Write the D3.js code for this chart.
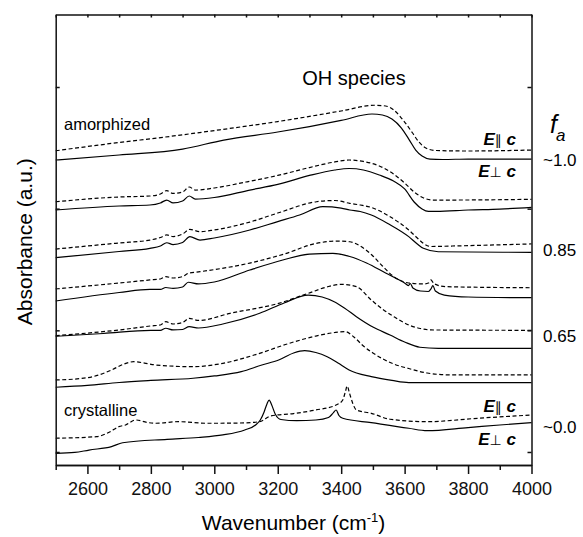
<!DOCTYPE html>
<html>
<head>
  <script src="https://d3js.org/d3.v7.min.js"></script>
  <style>
    body { margin: 0; background: #fff; }
    svg { font-family: "Liberation Sans", Arial, Helvetica, sans-serif; }
    .axis path, .axis line { stroke: #111; stroke-width: 1.5; }
    .axis text { font-size: 18px; fill: #111; font-family: "Liberation Sans", Arial, sans-serif; }
    .spec { fill: none; stroke: #000; stroke-width: 1.2; }
    .dash { stroke-dasharray: 4,2.5; }
  </style>
</head>
<body>
<div id="chart"></div>
<script>
  var width = 583, height = 537;
  var margin = {top: 14.5, left: 55.7, right: 51.5, bottom: 72};

  var svg = d3.select("#chart").append("svg")
    .attr("width", width)
    .attr("height", height);

  /*
  SPECTRA: [wavenumber, absorbance (a.u., offset for clarity)]
  pairs from top (amorphized) to bottom (crystalline); para = E||c, perp = E_|_c
  */
  var s1para = [[2500,2.476],[2700,2.544],[2840,2.587],[3000,2.642],[3200,2.716],[3400,2.803],[3505,2.850],[3540,2.844],[3566,2.811],[3600,2.712],[3625,2.622],[3645,2.548],[3670,2.494],[3700,2.478],[3800,2.474],[4000,2.482]];
  var s1perp = [[2500,2.400],[2700,2.441],[2900,2.490],[3030,2.564],[3200,2.630],[3300,2.675],[3400,2.725],[3497,2.778],[3530,2.770],[3560,2.737],[3590,2.663],[3615,2.564],[3635,2.482],[3655,2.433],[3680,2.408],[3720,2.404],[3800,2.408],[4000,2.408]];

  var s2para = [[2500,2.057],[2700,2.096],[2797,2.104],[2830,2.121],[2850,2.149],[2870,2.125],[2900,2.137],[2921,2.178],[2940,2.153],[3000,2.170],[3100,2.219],[3200,2.273],[3300,2.338],[3380,2.384],[3425,2.400],[3470,2.388],[3520,2.351],[3565,2.285],[3600,2.211],[3630,2.137],[3660,2.088],[3690,2.071],[3750,2.071],[4000,2.077]];
  var s2perp = [[2500,1.989],[2700,2.022],[2797,2.030],[2830,2.047],[2850,2.071],[2870,2.047],[2900,2.063],[2921,2.104],[2940,2.079],[3000,2.092],[3112,2.153],[3200,2.199],[3300,2.273],[3380,2.318],[3425,2.330],[3470,2.318],[3520,2.277],[3565,2.227],[3600,2.162],[3630,2.055],[3655,1.997],[3675,1.977],[3700,1.977],[3800,1.989],[3900,1.997],[4000,2.011]];

  var s3para = [[2500,1.668],[2700,1.718],[2797,1.742],[2830,1.763],[2850,1.784],[2870,1.771],[2900,1.792],[2923,1.830],[2955,1.811],[3000,1.825],[3112,1.890],[3200,1.964],[3322,2.057],[3380,2.067],[3427,2.044],[3460,2.030],[3495,2.010],[3550,1.940],[3613,1.825],[3640,1.759],[3659,1.715],[3683,1.689],[3750,1.693],[4000,1.710]];
  var s3perp = [[2500,1.597],[2700,1.648],[2797,1.674],[2830,1.693],[2850,1.720],[2870,1.705],[2900,1.722],[2923,1.770],[2955,1.742],[3000,1.759],[3112,1.825],[3200,1.894],[3269,1.948],[3342,2.016],[3400,2.005],[3427,1.989],[3460,1.977],[3495,1.948],[3550,1.874],[3613,1.770],[3640,1.710],[3659,1.674],[3706,1.646],[4000,1.641]];

  var s4para = [[2500,1.340],[2700,1.389],[2797,1.414],[2830,1.422],[2847,1.441],[2870,1.430],[2900,1.442],[2918,1.469],[2955,1.482],[3112,1.553],[3220,1.627],[3322,1.715],[3390,1.734],[3427,1.728],[3460,1.693],[3500,1.611],[3530,1.529],[3566,1.441],[3613,1.389],[3660,1.381],[3675,1.389],[3683,1.414],[3692,1.385],[3729,1.359],[4000,1.350]];
  var s4perp = [[2500,1.241],[2700,1.311],[2797,1.337],[2830,1.336],[2847,1.352],[2870,1.344],[2900,1.356],[2918,1.395],[2950,1.381],[3000,1.397],[3112,1.496],[3216,1.578],[3300,1.627],[3374,1.633],[3427,1.607],[3480,1.553],[3540,1.471],[3600,1.389],[3612,1.368],[3618,1.385],[3626,1.348],[3650,1.323],[3675,1.319],[3683,1.340],[3689,1.368],[3697,1.323],[3725,1.290],[3800,1.274],[4000,1.268]];

  var s5para = [[2500,0.956],[2700,1.003],[2800,1.036],[2830,1.044],[2847,1.071],[2870,1.052],[2900,1.064],[2921,1.099],[2950,1.081],[3050,1.140],[3203,1.222],[3296,1.304],[3360,1.360],[3401,1.378],[3448,1.359],[3495,1.249],[3530,1.175],[3566,1.112],[3613,1.044],[3650,1.015],[3683,1.003],[4000,1.000]];
  var s5perp = [[2500,0.951],[2650,0.974],[2800,0.999],[2830,0.999],[2847,1.017],[2870,1.003],[2900,1.007],[2921,1.030],[2950,1.019],[3027,1.052],[3143,1.140],[3220,1.225],[3296,1.290],[3340,1.274],[3378,1.235],[3410,1.184],[3448,1.112],[3500,1.027],[3554,0.962],[3600,0.904],[3648,0.861],[3706,0.852],[4000,0.852]];

  var s6para = [[2500,0.592],[2580,0.604],[2617,0.619],[2676,0.674],[2715,0.723],[2746,0.742],[2780,0.731],[2816,0.715],[2933,0.701],[3027,0.729],[3143,0.811],[3230,0.888],[3320,0.953],[3380,0.982],[3413,0.989],[3440,0.945],[3470,0.871],[3500,0.814],[3566,0.723],[3613,0.686],[3671,0.649],[3750,0.633],[4000,0.633]];
  var s6perp = [[2500,0.532],[2600,0.547],[2700,0.571],[2800,0.588],[2933,0.606],[3000,0.625],[3085,0.660],[3150,0.715],[3203,0.756],[3250,0.814],[3285,0.833],[3320,0.818],[3356,0.783],[3390,0.731],[3425,0.674],[3495,0.619],[3560,0.588],[3613,0.570],[4000,0.570]];

  var s7para = [[2500,0.113],[2629,0.126],[2670,0.164],[2699,0.208],[2720,0.222],[2752,0.263],[2790,0.242],[2816,0.236],[2886,0.249],[2980,0.236],[3080,0.238],[3143,0.249],[3178,0.296],[3250,0.316],[3320,0.345],[3384,0.386],[3405,0.427],[3413,0.493],[3419,0.542],[3426,0.485],[3436,0.403],[3448,0.345],[3495,0.318],[3554,0.269],[3671,0.249],[3830,0.277],[4000,0.304]];
  var s7perp = [[2500,-0.011],[2560,-0.004],[2605,0.016],[2676,0.044],[2711,0.076],[2851,0.104],[2950,0.119],[3027,0.140],[3096,0.181],[3130,0.222],[3145,0.263],[3157,0.329],[3166,0.395],[3173,0.427],[3181,0.386],[3192,0.312],[3210,0.267],[3260,0.257],[3320,0.263],[3360,0.284],[3375,0.321],[3384,0.345],[3393,0.300],[3405,0.277],[3495,0.241],[3613,0.195],[3671,0.175],[3800,0.201],[3900,0.222],[4000,0.241]];

  var paraSeries = [s1para, s2para, s3para, s4para, s5para, s6para, s7para];
  var perpSeries = [s1perp, s2perp, s3perp, s4perp, s5perp, s6perp, s7perp];

  var xMajorTicks = [2600, 2800, 3000, 3200, 3400, 3600, 3800, 4000];
  var xMinorTicks = [2500, 2700, 2900, 3100, 3300, 3500, 3700, 3900];
  var yTicks = [0, 1, 2, 3];
  var faLabels = ["~1.0", "0.85", "0.65", "~0.0"];

  /*
  SCALES
  */
  var xScale = d3.scaleLinear()
    .domain([2500, 4000])
    .range([margin.left, width - margin.right]);

  var yScale = d3.scaleLinear()
    .domain([-0.107, 3.596])
    .range([height - margin.bottom, margin.top]);

  var line = d3.line()
    .x(function(d) { return xScale(d[0]); })
    .y(function(d) { return yScale(d[1]); })
    .curve(d3.curveMonotoneX);

  /*
  SPECTRA
  */
  svg.selectAll(".para")
    .data(paraSeries)
    .enter().append("path")
      .attr("class", "spec dash para")
      .attr("d", line);

  svg.selectAll(".perp")
    .data(perpSeries)
    .enter().append("path")
      .attr("class", "spec perp")
      .attr("d", line);

  /*
  AXES (frame with ticks)
  */
  var bottom = height - margin.bottom;
  var right = width - margin.right;

  svg.append("g").attr("class", "axis")
    .attr("transform", "translate(0," + bottom + ")")
    .call(d3.axisBottom(xScale).tickValues(xMinorTicks).tickSizeInner(5).tickSizeOuter(0).tickFormat(""));

  svg.append("g").attr("class", "axis")
    .attr("transform", "translate(0," + bottom + ")")
    .call(d3.axisBottom(xScale).tickValues(xMajorTicks).tickSizeInner(9).tickSizeOuter(0).tickPadding(8).tickFormat(d3.format("d")));

  svg.append("g").attr("class", "axis")
    .attr("transform", "translate(0," + margin.top + ")")
    .call(d3.axisTop(xScale).tickValues(xMajorTicks.concat(xMinorTicks)).tickSizeInner(-3).tickSizeOuter(0).tickFormat(""));

  svg.append("g").attr("class", "axis")
    .attr("transform", "translate(" + margin.left + ",0)")
    .call(d3.axisLeft(yScale).tickValues(yTicks).tickSizeInner(-4).tickSizeOuter(0).tickFormat(""));

  svg.append("g").attr("class", "axis")
    .attr("transform", "translate(" + right + ",0)")
    .call(d3.axisRight(yScale).tickValues(yTicks).tickSizeInner(-4).tickSizeOuter(0).tickFormat(""));

  /*
  AXIS TITLES
  */
  var xTitle = svg.append("text")
    .attr("x", (margin.left + right) / 2)
    .attr("y", 530)
    .attr("text-anchor", "middle")
    .style("font-size", "21px");
  xTitle.append("tspan").text("Wavenumber (cm");
  xTitle.append("tspan").attr("dy", -8).style("font-size", "13px").text("-1");
  xTitle.append("tspan").attr("dy", 8).text(")");

  svg.append("text")
    .attr("transform", "translate(32," + ((margin.top + bottom) / 2 + 2) + ") rotate(-90)")
    .attr("text-anchor", "middle")
    .style("font-size", "21px")
    .text("Absorbance (a.u.)");

  /*
  ANNOTATIONS
  */
  svg.append("text").attr("x", 354).attr("y", 85)
    .attr("text-anchor", "middle").style("font-size", "20px").text("OH species");
  svg.append("text").attr("x", 64).attr("y", 130)
    .style("font-size", "16.5px").text("amorphized");
  svg.append("text").attr("x", 64).attr("y", 416)
    .style("font-size", "16.5px").text("crystalline");

  function polLabel(yPos, sym) {
    var t = svg.append("text").attr("x", 516).attr("y", yPos)
      .attr("text-anchor", "end").style("font-size", "17px");
    t.append("tspan").style("font-weight", "bold").style("font-style", "italic").text("E");
    t.append("tspan").style("font-family", "DejaVu Sans").style("font-size", "14px").text(sym);
    t.append("tspan").style("font-weight", "bold").style("font-style", "italic").text(" c");
  }
  polLabel(145, "\u2225");
  polLabel(177, "\u22A5");
  polLabel(412, "\u2225");
  polLabel(445, "\u22A5");

  svg.append("text").attr("x", 550).attr("y", 133)
    .style("font-size", "25px").style("font-style", "italic").text("f");
  svg.append("text").attr("x", 556).attr("y", 141)
    .style("font-size", "17px").style("font-style", "italic").text("a");

  var faY = [166, 256, 342, 433];
  svg.selectAll(".fa")
    .data(faLabels)
    .enter().append("text")
      .attr("class", "fa")
      .attr("x", 543)
      .attr("y", function(d, i) { return faY[i]; })
      .style("font-size", "17px")
      .text(function(d) { return d; });
</script>
</body>
</html>
